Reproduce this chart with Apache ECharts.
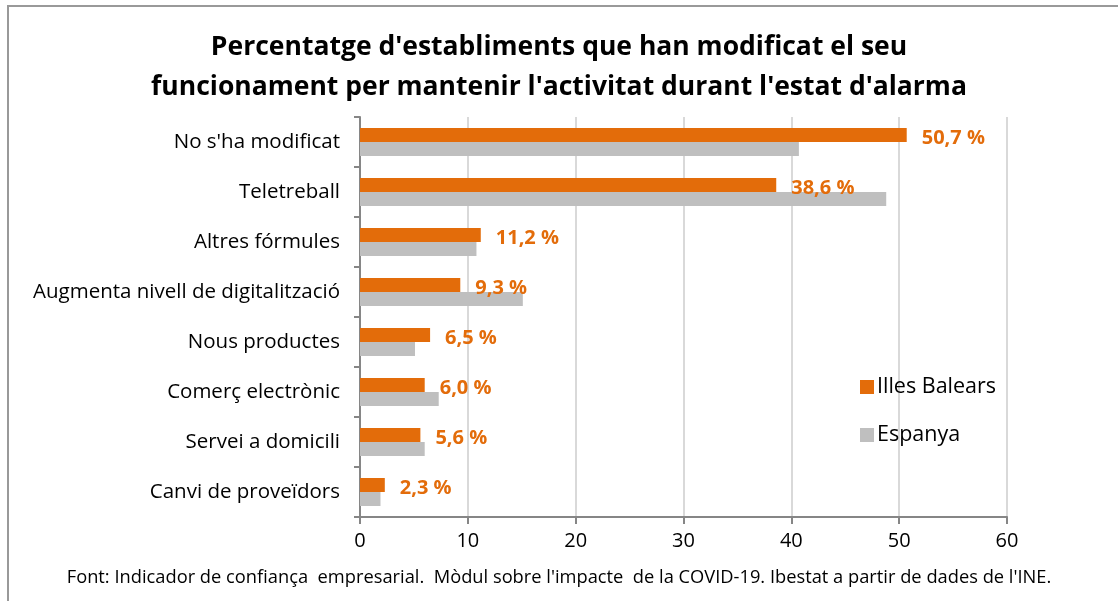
<!DOCTYPE html>
<html lang="ca">
<head>
    <meta charset="UTF-8">
    <title>Percentatge d'establiments</title>
    <style>
        html, body { margin: 0; padding: 0; background: #fff; }
        #chart { width: 1118px; height: 601px; }
    </style>
</head>
<body>
<div id="chart"></div>
<script src="https://cdn.jsdelivr.net/npm/echarts@6/dist/echarts.min.js"></script>
<script type="text/javascript">
    var categories = ["No s'ha modificat", "Teletreball", "Altres fórmules", "Augmenta nivell de digitalització",
        "Nous productes", "Comerç electrònic", "Servei a domicili", "Canvi de proveïdors"];
    var balears = [50.7, 38.6, 11.2, 9.3, 6.5, 6.0, 5.6, 2.3];
    var espanya = [40.7, 48.8, 10.8, 15.1, 5.1, 7.3, 6.0, 1.9];
    var xTicks = [0, 10, 20, 30, 40, 50, 60];

    var font = '"Open Sans", "Noto Sans", sans-serif';
    var myChart = echarts.init(document.getElementById('chart'));

    var option = {
        animation: false,
        textStyle: { fontFamily: font },
        title: {
            text: "Percentatge d'establiments que han modificat el seu\nfuncionament per mantenir l'activitat durant l'estat d'alarma",
            left: 'center',
            top: 22,
            padding: [5, 0, 5, 14],
            textStyle: { fontSize: 26.5, fontWeight: 'bold', color: '#000', lineHeight: 40, fontFamily: font }
        },
        legend: {
            orient: 'vertical',
            left: 855,
            top: 371,
            itemWidth: 14,
            itemHeight: 14,
            itemGap: 26,
            icon: 'rect',
            textStyle: { fontSize: 21.5, color: '#000', fontFamily: font, padding: [0, 0, 0, -2] },
            data: ['Illes Balears', 'Espanya']
        },
        grid: { left: 360, right: 111, top: 117, bottom: 84, containLabel: false },
        xAxis: {
            type: 'value',
            min: 0,
            max: 60,
            interval: 10,
            axisLine: { show: true, lineStyle: { color: '#868686', width: 2 } },
            axisTick: { show: true, length: 7, lineStyle: { color: '#868686', width: 2 } },
            axisLabel: {
                fontSize: 20, color: '#000', margin: 14, fontFamily: font,
                formatter: function (v) { return xTicks.indexOf(v) >= 0 ? String(v) : ''; }
            },
            splitLine: { show: true, lineStyle: { color: '#d9d9d9', width: 2 } }
        },
        yAxis: {
            type: 'category',
            data: categories,
            inverse: true,
            axisLine: { show: true, lineStyle: { color: '#868686', width: 2 } },
            axisTick: { show: true, length: 6, lineStyle: { color: '#868686', width: 2 } },
            axisLabel: { fontSize: 20.5, color: '#000', margin: 20, fontFamily: font }
        },
        series: [
            {
                name: 'Illes Balears',
                type: 'bar',
                data: balears,
                barWidth: 14,
                barGap: '0%',
                itemStyle: { color: '#e36c0a' },
                label: {
                    show: true,
                    position: 'right',
                    distance: 15,
                    offset: [0, 3],
                    color: '#e36c0a',
                    fontSize: 20,
                    fontWeight: 'bold',
                    fontFamily: font,
                    formatter: function (p) { return p.value.toFixed(1).replace('.', ',') + ' %'; }
                }
            },
            {
                name: 'Espanya',
                type: 'bar',
                data: espanya,
                barWidth: 14,
                barGap: '0%',
                itemStyle: { color: '#bfbfbf' }
            }
        ],
        graphic: [
            {
                type: 'rect',
                shape: { x: 8, y: 6, width: 1130, height: 620 },
                style: { fill: 'none', stroke: '#999999', lineWidth: 2 },
                silent: true
            },
            {
                type: 'text',
                left: 'center',
                top: 569,
                style: {
                    text: "Font: Indicador de confiança  empresarial.  Mòdul sobre l'impacte  de la COVID-19. Ibestat a partir de dades de l'INE.",
                    font: '18.3px ' + font,
                    fill: '#000'
                }
            }
        ]
    };

    myChart.setOption(option);
</script>
</body>
</html>
